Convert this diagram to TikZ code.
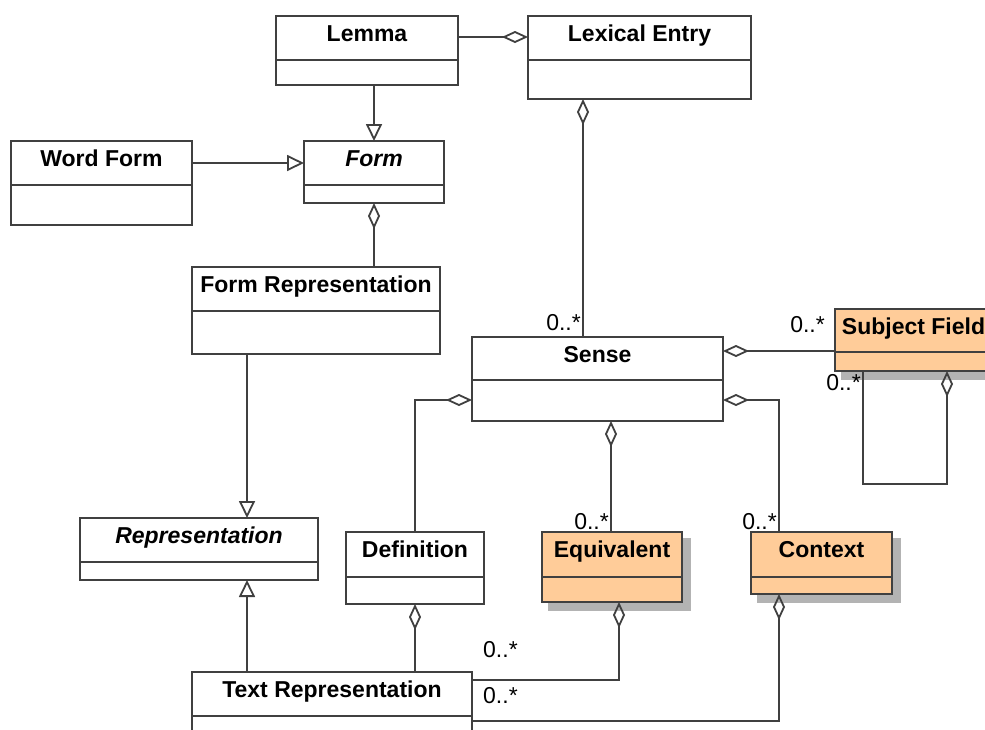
\documentclass[tikz,border=0pt]{standalone}
\usepackage{fontspec}
\setmainfont{Liberation Sans}
\usetikzlibrary{arrows.meta}
\definecolor{linegray}{HTML}{404040}
\definecolor{peach}{HTML}{FFCC99}
\definecolor{shadowgray}{HTML}{B3B3B3}
\tikzset{
  classbox/.style={draw=linegray, line width=1.8pt, fill=white, rectangle, inner sep=0pt, outer sep=0pt},
  orangebox/.style={fill=peach},
  titletext/.style={font=\fontsize{23}{27}\selectfont\bfseries, inner sep=0pt},
  lbl/.style={font=\fontsize{23}{27}\selectfont, inner sep=0pt},
  divline/.style={draw=linegray, line width=1.8pt},
  conn/.style={draw=linegray, line width=1.8pt},
  agg/.style={conn, {Diamond[open,length=26pt,width=12pt]}-},
  gen/.style={conn, -{Triangle[open,length=17pt,width=16pt]}},
}
% #1 extra style, #2 name, #3 x1, #4 y1, #5 x2, #6 y2, #7 divider y, #8 title
\newcommand{\umlclass}[8][]{%
  \node[classbox,#1, minimum width={#5-#3}, minimum height={#6-#4}, anchor=north west] (#2) at (#3,#4) {};
  \draw[divline] (#3,#7) -- (#5,#7);
  \node[titletext, anchor=base] (#2-title) at ({(#3+#5)/2},{#4+25}) {#8};
}
\newcommand{\umlshadow}[4]{%
  \fill[shadowgray] ({#1+6},{#2+6}) rectangle ({#3+9},{#4+9});
}
\begin{document}
\begin{tikzpicture}[x=1pt,y=-1pt]
\clip (0,0) rectangle (985,729);
\fill[white] (0,0) rectangle (985,729);

% classes
\umlclass{lemma}{276}{16}{458}{85}{60}{Lemma}
\umlclass{lexent}{528}{16}{751}{99}{60}{Lexical Entry}
\umlclass{wordform}{11}{141}{192}{225}{185}{Word Form}
\umlclass{form}{304}{141}{444}{203}{185}{\textit{Form}}
\umlclass{formrep}{192}{267}{440}{354}{311}{Form Representation}
\umlclass{sense}{472}{337}{723}{421}{380}{Sense}
\umlshadow{835}{309}{992}{371}
\umlclass[orangebox]{subject}{835}{309}{992}{371}{352}{Subject Field}
\umlclass{repr}{80}{518}{318}{580}{562}{\textit{Representation}}
\umlclass{definition}{346}{532}{484}{604}{577}{Definition}
\umlshadow{542}{532}{682}{602}
\umlclass[orangebox]{equiv}{542}{532}{682}{602}{577}{Equivalent}
\umlshadow{751}{532}{892}{594}
\umlclass[orangebox]{context}{751}{532}{892}{594}{577}{Context}
\umlclass{textrep}{192}{672}{472}{760}{716}{Text Representation}

% connectors
\draw[agg] (lexent.west |- 0,37) -- (lemma.east |- 0,37);
\draw[agg] (lexent.south -| 583,0) -- (sense.north -| 583,0);
\draw[gen] (lemma.south -| 374,0) -- (form.north -| 374,0);
\draw[gen] (wordform.east |- 0,163) -- (form.west |- 0,163);
\draw[agg] (form.south) -- (formrep.north -| form.south);
\draw[gen] (formrep.south -| 247,0) -- (repr.north -| 247,0);
\draw[gen] (textrep.north -| 247,0) -- (repr.south -| 247,0);
\draw[agg] (sense.west |- 0,400) -| (definition.north);
\draw[agg] (sense.east |- 0,351) -- (subject.west |- 0,351);
\draw[agg] (sense.east |- 0,400) -| (context.north -| 779,0);
\draw[agg] (sense.south -| 611,0) -- (equiv.north -| 611,0);
\coordinate (loopright) at (947,484);
\coordinate (loopleft) at (863,484);
\draw[agg] (subject.south -| loopright) -- (loopright) -- (loopleft) -- (subject.south -| loopleft);
\draw[agg] (definition.south) -- (textrep.north -| definition.south);
\draw[agg] (equiv.south -| 619,0) |- (textrep.east |- 0,680);
\draw[agg] (context.south -| 779,0) |- (textrep.east |- 0,721);

% multiplicities
\node[lbl, anchor=base east] (m1) at (581,330) {0..*};
\node[lbl, anchor=base east] (m2) at (825,332) {0..*};
\node[lbl, anchor=base east] (m3) at (861,390) {0..*};
\node[lbl, anchor=base east] (m4) at (609,529) {0..*};
\node[lbl, anchor=base east] (m5) at (777,529) {0..*};
\node[lbl, anchor=base west] (m6) at (483,657) {0..*};
\node[lbl, anchor=base west] (m7) at (483,703) {0..*};
\end{tikzpicture}
\end{document}
